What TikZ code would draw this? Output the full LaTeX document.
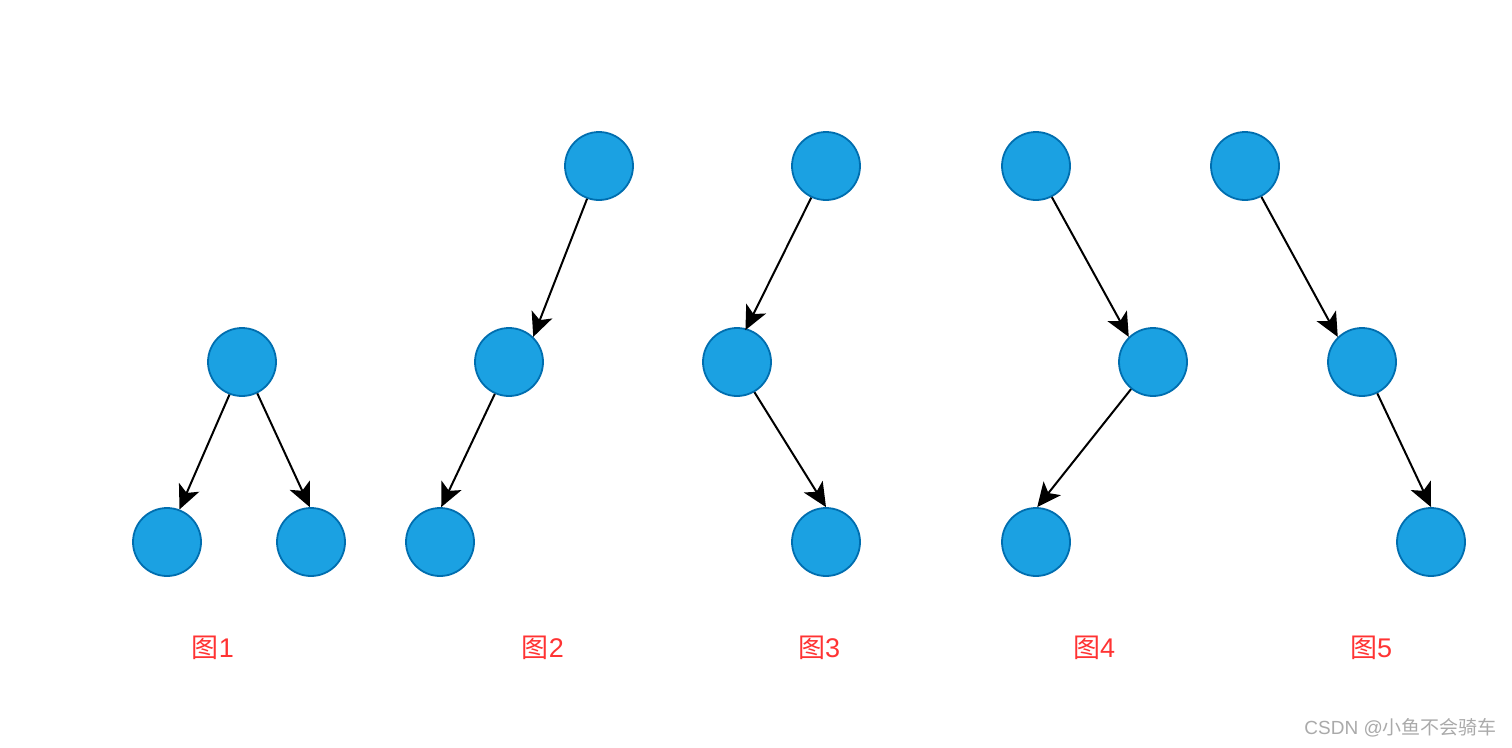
\documentclass[tikz,border=0pt]{standalone}
\usepackage{fontspec}
\newfontfamily\cjk{Noto Sans CJK SC}
\newfontfamily\lat{Liberation Sans}
\usetikzlibrary{arrows.meta}
\definecolor{nodefill}{HTML}{1BA1E2}
\definecolor{nodedraw}{HTML}{006EAF}
\definecolor{labred}{HTML}{FF3333}
\definecolor{wmgray}{HTML}{AAAAAA}
\newcommand{\figtxt}[1]{{\cjk 图}{\lat #1}}
\begin{document}
\begin{tikzpicture}[x=1pt,y=-1pt,
  vtx/.style={circle,fill=nodefill,draw=nodedraw,line width=1.8pt,minimum size=68pt,inner sep=0pt},
  edge/.style={line width=2pt,-{Stealth[length=24pt,width=22pt,inset=6pt]}},
  figlab/.style={text=labred,font=\fontsize{27}{30}\selectfont,inner sep=0pt}]
\fill[white] (0,0) rectangle (1512,747);
\useasboundingbox (0,0) rectangle (1512,747);
% Fig 1
\node[vtx] (a1) at (242,362) {};
\node[vtx] (b1) at (167,542) {};
\node[vtx] (c1) at (311,542) {};
\draw[edge] (a1.-111) -- (b1.69);
\draw[edge] (a1.-64) -- (c1.92);
% Fig 2
\node[vtx] (a2) at (599,166) {};
\node[vtx] (b2) at (509,362) {};
\node[vtx] (c2) at (440,542) {};
\draw[edge] (a2.-110) -- (b2.46);
\draw[edge] (b2.-114) -- (c2.88);
% Fig 3
\node[vtx] (a3) at (826,166) {};
\node[vtx] (b3) at (737,362) {};
\node[vtx] (c3) at (826,542) {};
\draw[edge] (a3.-115) -- ([yshift=-2pt]b3.76);
\draw[edge] (b3.-60) -- (c3.north);
% Fig 4
\node[vtx] (a4) at (1036,166) {};
\node[vtx] (b4) at (1153,362) {};
\node[vtx] (c4) at (1036,542) {};
\draw[edge] (a4.-63) -- (b4.134);
\draw[edge] (b4.-129) -- (c4.88);
% Fig 5
\node[vtx] (a5) at (1245,166) {};
\node[vtx] (b5) at (1362,362) {};
\node[vtx] (c5) at (1431,542) {};
\draw[edge] (a5.-62) -- (b5.134);
\draw[edge] (b5.-64) -- (c5.north);
% labels
\node[figlab] (l1) at (213,648) {\figtxt{1}};
\node[figlab] (l2) at (543,648) {\figtxt{2}};
\node[figlab] (l3) at (819,648) {\figtxt{3}};
\node[figlab] (l4) at (1094,648) {\figtxt{4}};
\node[figlab] (l5) at (1371,648) {\figtxt{5}};
\node[text=wmgray,font=\fontsize{19}{21}\selectfont,anchor=east,inner sep=0pt] (wm) at (1497,728) {{\lat CSDN @}{\cjk 小鱼不会骑车}};
\end{tikzpicture}
\end{document}
